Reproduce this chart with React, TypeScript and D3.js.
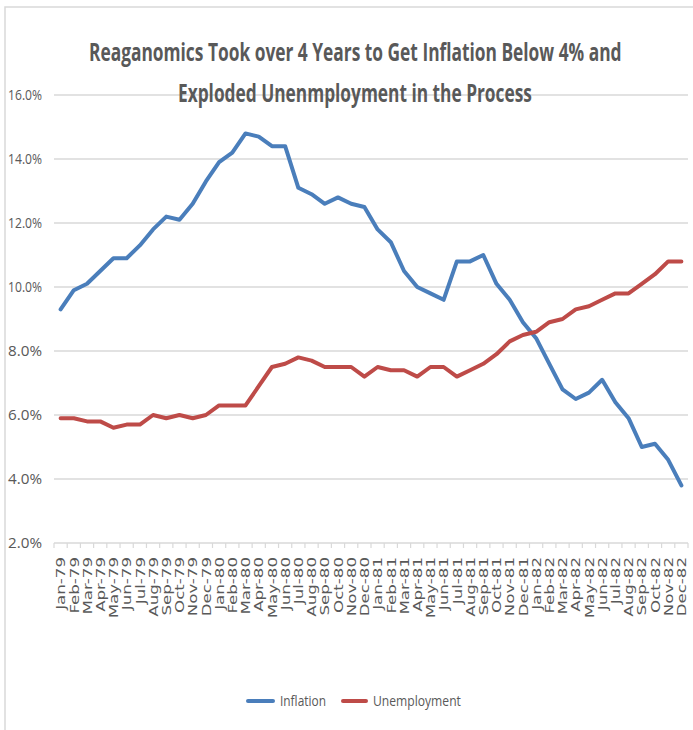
import { useLayoutEffect, useRef, useState } from "react";
import * as d3 from "d3";

const months = [
  "Jan-79", "Feb-79", "Mar-79", "Apr-79", "May-79", "Jun-79", "Jul-79", "Aug-79", "Sep-79", "Oct-79", "Nov-79", "Dec-79",
  "Jan-80", "Feb-80", "Mar-80", "Apr-80", "May-80", "Jun-80", "Jul-80", "Aug-80", "Sep-80", "Oct-80", "Nov-80", "Dec-80",
  "Jan-81", "Feb-81", "Mar-81", "Apr-81", "May-81", "Jun-81", "Jul-81", "Aug-81", "Sep-81", "Oct-81", "Nov-81", "Dec-81",
  "Jan-82", "Feb-82", "Mar-82", "Apr-82", "May-82", "Jun-82", "Jul-82", "Aug-82", "Sep-82", "Oct-82", "Nov-82", "Dec-82",
];

const inflation = [
  9.3, 9.9, 10.1, 10.5, 10.9, 10.9, 11.3, 11.8, 12.2, 12.1, 12.6, 13.3,
  13.9, 14.2, 14.8, 14.7, 14.4, 14.4, 13.1, 12.9, 12.6, 12.8, 12.6, 12.5,
  11.8, 11.4, 10.5, 10.0, 9.8, 9.6, 10.8, 10.8, 11.0, 10.1, 9.6, 8.9,
  8.4, 7.6, 6.8, 6.5, 6.7, 7.1, 6.4, 5.9, 5.0, 5.1, 4.6, 3.8,
];

const unemployment = [
  5.9, 5.9, 5.8, 5.8, 5.6, 5.7, 5.7, 6.0, 5.9, 6.0, 5.9, 6.0,
  6.3, 6.3, 6.3, 6.9, 7.5, 7.6, 7.8, 7.7, 7.5, 7.5, 7.5, 7.2,
  7.5, 7.4, 7.4, 7.2, 7.5, 7.5, 7.2, 7.4, 7.6, 7.9, 8.3, 8.5,
  8.6, 8.9, 9.0, 9.3, 9.4, 9.6, 9.8, 9.8, 10.1, 10.4, 10.8, 10.8,
];

const yTicks = [2, 4, 6, 8, 10, 12, 14, 16];

const titleLines = [
  "Reaganomics Took over 4 Years to Get Inflation Below 4% and",
  "Exploded Unenmployment in the Process",
];

const series = [
  { name: "Inflation", values: inflation, color: "#4a7ebb" },
  { name: "Unemployment", values: unemployment, color: "#be4b48" },
];

const W = 693;
const H = 730;
const textColor = "#595959";
const gridColor = "#d9d9d9";

// text squeezed sideways to a given width (the reference uses a narrow font)
function FitText({ x, y, width, anchor = "start", children, ...rest }: any) {
  const ref = useRef<SVGTextElement>(null);
  const [sx, setSx] = useState(1);
  useLayoutEffect(() => {
    if (!ref.current) return;
    const len = ref.current.getComputedTextLength();
    if (len > 0) setSx(width / len);
  }, [width, children]);
  return (
    <text
      ref={ref}
      transform={`translate(${x},${y}) scale(${sx},1)`}
      textAnchor={anchor}
      {...rest}
    >
      {children}
    </text>
  );
}

export default function App() {
  const left = 54;
  const right = 688;
  const top = 95;
  const bottom = 543;

  const x = d3.scaleBand<string>().domain(months).range([left, right]);
  const y = d3.scaleLinear().domain([2, 16]).range([bottom, top]);

  const line = d3
    .line<number>()
    .x((_, i) => (x(months[i]) ?? 0) + x.bandwidth() / 2)
    .y((d) => y(d));

  const tickXs = months.map((m) => x(m) ?? 0).concat([right]);

  const legendItems = [
    { ...series[0], x0: 248, x1: 273, tx: 280, tl: 46 },
    { ...series[1], x0: 343, x1: 366, tx: 373, tl: 88 },
  ];

  return (
    <svg
      width={W}
      height={H}
      style={{ position: "absolute", left: 0, top: 0, background: "#fff" }}
    >
      <rect x={5} y={7} width={W} height={H} fill="#fff" stroke={gridColor} strokeWidth={1.5} />

      {yTicks.map((t) => (
        <g key={t}>
          <line x1={left} x2={right} y1={y(t)} y2={y(t)} stroke={gridColor} strokeWidth={1.5} />
          <FitText
            x={42}
            y={y(t)}
            width={34}
            anchor="end"
            dy="0.35em"
            fontFamily="'Open Sans', sans-serif"
            fontSize={15}
            fill={textColor}
          >
            {t.toFixed(1)}%
          </FitText>
        </g>
      ))}

      {tickXs.map((tx, i) => (
        <line key={i} x1={tx} x2={tx} y1={bottom} y2={bottom + 5} stroke={gridColor} strokeWidth={1.2} />
      ))}

      {months.map((m) => {
        const cx = (x(m) ?? 0) + x.bandwidth() / 2;
        return (
          <text
            key={m}
            transform={`translate(${cx},${557}) rotate(-90) scale(1.28,1)`}
            dy="0.36em"
            textAnchor="end"
            fontFamily="'DejaVu Sans', Verdana, sans-serif"
            fontSize={13}
            fill={textColor}
          >
            {m}
          </text>
        );
      })}

      {series.map((s) => (
        <path
          key={s.name}
          d={line(s.values) ?? ""}
          fill="none"
          stroke={s.color}
          strokeWidth={4}
          strokeLinejoin="round"
          strokeLinecap="round"
        />
      ))}

      {titleLines.map((t, i) => (
        <FitText
          key={i}
          x={i === 0 ? 89 : 178}
          y={i === 0 ? 61 : 102}
          width={i === 0 ? 533 : 354}
          fontFamily="'Open Sans', sans-serif"
          fontWeight="bold"
          fontSize={25}
          fill={textColor}
        >
          {t}
        </FitText>
      ))}

      {legendItems.map((l) => (
        <g key={l.name}>
          <line x1={l.x0} x2={l.x1} y1={701} y2={701} stroke={l.color} strokeWidth={4} strokeLinecap="round" />
          <FitText
            x={l.tx}
            y={701}
            width={l.tl}
            dy="0.35em"
            fontFamily="'Open Sans', sans-serif"
            fontSize={15}
            fill={textColor}
          >
            {l.name}
          </FitText>
        </g>
      ))}
    </svg>
  );
}
